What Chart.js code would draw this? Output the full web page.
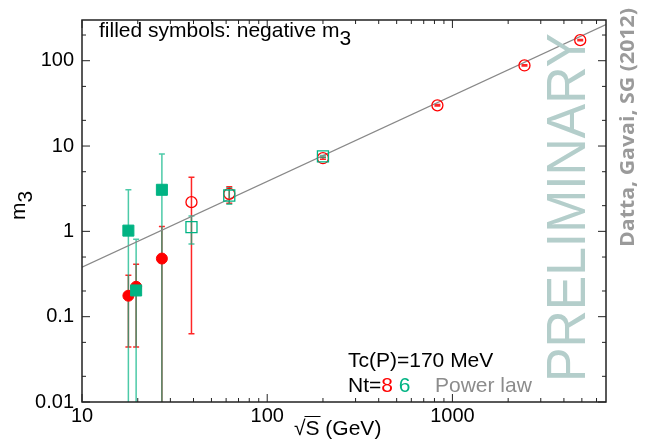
<!DOCTYPE html>
<html>
<head>
<meta charset="utf-8">
<script src="https://cdn.jsdelivr.net/npm/chart.js@4"></script>
<style>
  html, body { margin: 0; padding: 0; background: #fff; }
</style>
</head>
<body>
<canvas id="myChart" width="651" height="439"></canvas>
<script>
const xTicks = [10, 100, 1000];
const xTickLabels = ['10', '100', '1000'];
const yTicks = [0.01, 0.1, 1, 10, 100];
const yTickLabels = ['0.01', '0.1', '1', '10', '100'];

// Nt=8, negative m3 (filled circles)
const rootS8neg = [17.8, 19.6, 27];
const m3_8neg = [0.176, 0.224, 0.48];
const m3_8negLo = [0.044, 0.044, 0.001];
const m3_8negHi = [0.306, 0.412, 1.14];

// Nt=8, positive m3 (open circles)
const rootS8pos = [39, 62.4, 200, 830, 2450, 4900];
const m3_8pos = [2.2, 2.75, 7.2, 30, 88, 174];
const m3_8posLo = [0.063, 2.13, 7.0, 29.4, 86.5, 171];
const m3_8posHi = [4.3, 3.34, 7.4, 30.6, 89.5, 177];

// Nt=6, negative m3 (filled squares)
const rootS6neg = [17.8, 19.6, 27];
const m3_6neg = [1.02, 0.203, 3.07];
const m3_6negLo = [0.001, 0.001, 0.001];
const m3_6negHi = [3.07, 0.81, 8.08];

// Nt=6, positive m3 (open squares)
const rootS6pos = [39, 62.4, 200];
const m3_6pos = [1.12, 2.63, 7.56];
const m3_6posLo = [0.71, 2.08, 7.35];
const m3_6posHi = [1.51, 3.25, 7.75];

// power law fit line
const fitX = [10, 6750];
const fitY = [0.38, 265];

const RED = '#ff0000';
const GREEN = '#00b383';
const FONT = '"Liberation Sans", Arial, sans-serif';

const pts = (xs, ys) => xs.map((v, i) => ({ x: v, y: ys[i] }));

const errorBars = {
  id: 'errorBars',
  beforeDatasetsDraw(chart) {
    const { ctx, chartArea: { left, top, right, bottom }, scales: { x, y } } = chart;
    const sets = [
      [rootS8neg, m3_8negLo, m3_8negHi, 'rgba(255,0,0,0.85)'],
      [rootS8pos, m3_8posLo, m3_8posHi, 'rgba(255,0,0,0.85)'],
      [rootS6neg, m3_6negLo, m3_6negHi, 'rgba(0,179,131,0.7)'],
      [rootS6pos, m3_6posLo, m3_6posHi, 'rgba(0,179,131,0.7)']
    ];
    ctx.save();
    ctx.beginPath();
    ctx.rect(left, top, right - left, bottom - top);
    ctx.clip();
    ctx.lineWidth = 1.5;
    sets.forEach(([xs, lo, hi, col]) => {
      ctx.strokeStyle = col;
      xs.forEach((v, i) => {
        const px = x.getPixelForValue(v);
        const y1 = y.getPixelForValue(lo[i]);
        const y2 = y.getPixelForValue(hi[i]);
        ctx.beginPath();
        ctx.moveTo(px, y1); ctx.lineTo(px, y2);
        ctx.moveTo(px - 3, y1); ctx.lineTo(px + 3, y1);
        ctx.moveTo(px - 3, y2); ctx.lineTo(px + 3, y2);
        ctx.stroke();
      });
    });
    ctx.restore();
  }
};

function fitText(ctx, text, x, y, length) {
  // rotated -90, squeezed to the measured length
  ctx.save();
  ctx.translate(x, y);
  ctx.rotate(-Math.PI / 2);
  const w = ctx.measureText(text).width;
  ctx.scale(length / w, 1);
  ctx.fillText(text, 0, 0);
  ctx.restore();
}

const decorations = {
  id: 'decorations',
  afterDraw(chart) {
    const { ctx, chartArea: { left, top, right, bottom }, scales: { x, y } } = chart;
    ctx.save();

    // frame
    ctx.strokeStyle = '#222';
    ctx.lineWidth = 1.5;
    ctx.strokeRect(left, top, right - left, bottom - top);

    // inner ticks on all four sides
    ctx.lineWidth = 1;
    ctx.beginPath();
    for (let d = 10; d <= 1000; d *= 10) {
      for (let k = 1; k <= 9; k++) {
        const v = d * k;
        if (v > x.max) break;
        const px = x.getPixelForValue(v);
        const len = k === 1 ? 8 : 4;
        ctx.moveTo(px, bottom); ctx.lineTo(px, bottom - len);
        ctx.moveTo(px, top); ctx.lineTo(px, top + len);
      }
    }
    [0.01, 0.1, 1, 10, 100].forEach(d => {
      [1, 2, 5].forEach(k => {
        const v = d * k;
        if (v > y.max) return;
        const py = y.getPixelForValue(v);
        const len = k === 1 ? 8 : 4;
        ctx.moveTo(left, py); ctx.lineTo(left + len, py);
        ctx.moveTo(right, py); ctx.lineTo(right - len, py);
      });
    });
    ctx.stroke();

    // watermark
    ctx.fillStyle = '#b4cecb';
    ctx.font = '56px ' + FONT;
    ctx.textBaseline = 'alphabetic';
    fitText(ctx, 'PRELIMINARY', 585, 382, 349);

    ctx.fillStyle = '#9a9a9a';
    ctx.font = 'bold 20px "Open Sans", sans-serif';
    fitText(ctx, 'Datta, Gavai, SG (2012)', 634, 247, 239);

    // labels in the plot
    ctx.fillStyle = '#000';
    ctx.font = '21px ' + FONT;
    ctx.textAlign = 'left';
    ctx.fillText('filled symbols: negative m', 99, 37);
    let w = ctx.measureText('filled symbols: negative m').width;
    ctx.fillText('3', 99 + w, 45);

    ctx.fillText('Tc(P)=170 MeV', 348, 367);
    let cx = 348;
    ctx.fillText('Nt=', cx, 392);
    cx += ctx.measureText('Nt=').width;
    ctx.fillStyle = RED;
    ctx.fillText('8', cx, 392);
    cx += ctx.measureText('8 ').width;
    ctx.fillStyle = GREEN;
    ctx.fillText('6', cx, 392);
    ctx.fillStyle = '#8c8c8c';
    ctx.fillText('Power law', 435, 392);

    // axis titles
    ctx.fillStyle = '#000';
    ctx.fillText('\u221A', 294, 435);
    const sx = 294 + ctx.measureText('\u221A').width;
    ctx.fillText('S (GeV)', sx, 435);
    const sw = ctx.measureText('S').width;
    ctx.lineWidth = 1;
    ctx.strokeStyle = '#000';
    ctx.beginPath();
    ctx.moveTo(sx - 1, 416.5); ctx.lineTo(sx + sw + 1, 416.5);
    ctx.stroke();

    ctx.translate(25, 220);
    ctx.rotate(-Math.PI / 2);
    ctx.fillText('m', 0, 0);
    ctx.fillText('3', ctx.measureText('m').width, 7);

    ctx.restore();
  }
};

Chart.defaults.font.family = FONT;

new Chart(document.getElementById('myChart'), {
  type: 'scatter',
  plugins: [errorBars, decorations],
  data: {
    datasets: [
      {
        label: 'Nt=6 negative',
        data: pts(rootS6neg, m3_6neg),
        pointStyle: 'rect', pointRadius: 7.8,
        backgroundColor: GREEN, borderColor: GREEN, borderWidth: 1
      },
      {
        label: 'Nt=6',
        data: pts(rootS6pos, m3_6pos),
        pointStyle: 'rect', pointRadius: 7.8,
        backgroundColor: 'rgba(0,0,0,0)', borderColor: GREEN, borderWidth: 1.3
      },
      {
        label: 'Nt=8 negative',
        data: pts(rootS8neg, m3_8neg),
        pointStyle: 'circle', pointRadius: 5.5,
        backgroundColor: RED, borderColor: RED, borderWidth: 1
      },
      {
        label: 'Nt=8',
        data: pts(rootS8pos, m3_8pos),
        pointStyle: 'circle', pointRadius: 5.5,
        backgroundColor: 'rgba(0,0,0,0)', borderColor: RED, borderWidth: 1.3
      },
      {
        label: 'Power law',
        data: pts(fitX, fitY),
        showLine: true, pointRadius: 0,
        borderColor: '#888', borderWidth: 1.2
      }
    ]
  },
  options: {
    responsive: false,
    animation: false,
    layout: { padding: { top: 18, right: 45, left: 0, bottom: 0 } },
    plugins: { legend: { display: false }, tooltip: { enabled: false } },
    scales: {
      x: {
        type: 'logarithmic',
        min: 10, max: 6750,
        grid: { display: false, drawTicks: false },
        border: { display: false },
        afterBuildTicks: s => { s.ticks = xTicks.map(v => ({ value: v })); },
        afterFit: s => { s.height = 37; },
        ticks: {
          padding: 2, color: '#000', font: { size: 20 },
          maxRotation: 0, autoSkip: false,
          callback: (v, i) => xTickLabels[i]
        }
      },
      y: {
        type: 'logarithmic',
        min: 0.01, max: 300,
        grid: { display: false, drawTicks: false },
        border: { display: false },
        afterBuildTicks: s => { s.ticks = yTicks.map(v => ({ value: v })); },
        afterFit: s => { s.width = 82; },
        ticks: {
          padding: 8, color: '#000', font: { size: 20 },
          autoSkip: false,
          callback: (v, i) => yTickLabels[i]
        }
      }
    }
  }
});
</script>
</body>
</html>
